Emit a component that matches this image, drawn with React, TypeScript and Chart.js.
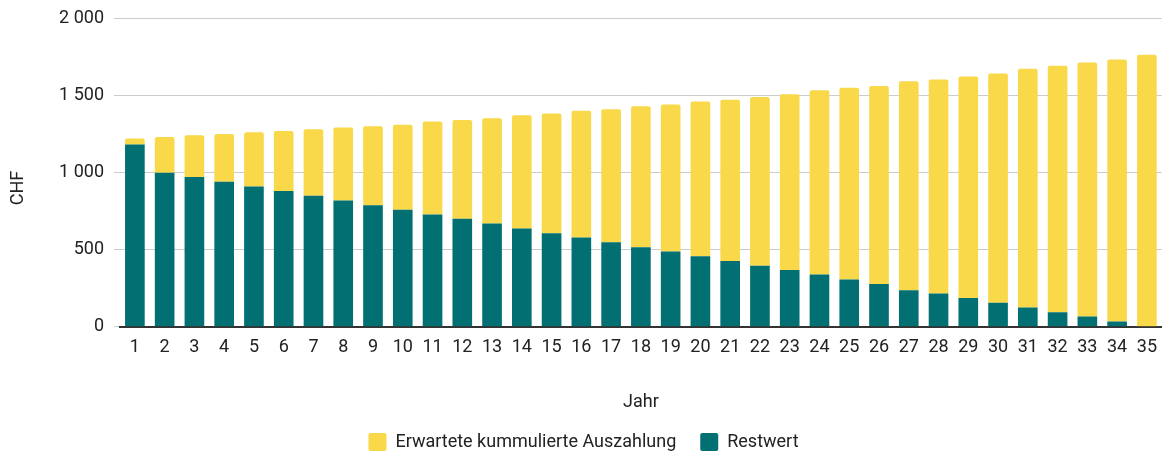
import React, { useEffect, useRef } from 'react';
import { Chart, registerables } from 'chart.js';

Chart.register(...registerables);

const years: string[] = [
  '1', '2', '3', '4', '5', '6', '7', '8', '9', '10',
  '11', '12', '13', '14', '15', '16', '17', '18', '19', '20',
  '21', '22', '23', '24', '25', '26', '27', '28', '29', '30',
  '31', '32', '33', '34', '35',
];

const restwert: number[] = [
  1180, 998, 970, 940, 909, 879, 848, 818, 788, 758,
  727, 699, 669, 636, 606, 578, 548, 515, 487, 457,
  426, 396, 368, 338, 307, 277, 236, 216, 186, 156,
  125, 95, 67, 34, 0,
];

const auszahlung: number[] = [
  39, 231, 270, 309, 351, 389, 431, 472, 511, 550,
  602, 641, 682, 734, 775, 822, 861, 914, 952, 1002,
  1044, 1093, 1138, 1194, 1242, 1283, 1355, 1386, 1435, 1484,
  1546, 1595, 1645, 1698, 1762,
];

const seriesNames = ['Restwert', 'Erwartete kummulierte Auszahlung'];
const xTitle = 'Jahr';
const yTitle = 'CHF';
const yMin = 0;
const yMax = 2000;
const yStep = 500;

const TEAL = '#027072';
const YELLOW = '#F9D849';
const FONT = 'Roboto, "Noto Sans", sans-serif';

function fmt(v: number): string {
  return String(v).replace(/\B(?=(\d{3})+(?!\d))/g, ' ');
}

const yTitlePlugin = {
  id: 'yTitlePlugin',
  afterDraw(chart: any) {
    const { ctx } = chart;
    ctx.save();
    ctx.translate(18, 188);
    ctx.rotate(-Math.PI / 2);
    ctx.font = `18px ${FONT}`;
    ctx.fillStyle = '#222222';
    ctx.textAlign = 'center';
    ctx.textBaseline = 'middle';
    ctx.fillText(yTitle, 0, 0);
    ctx.restore();
  },
};

const legendShiftPlugin = {
  id: 'legendShiftPlugin',
  afterLayout(chart: any) {
    const lg = chart.legend;
    if (lg) {
      lg.top += 9;
      lg.bottom += 9;
    }
  },
};

export default function App() {
  const ref = useRef<HTMLCanvasElement | null>(null);

  useEffect(() => {
    document.body.style.margin = '0';
    if (!ref.current) return;
    const chart = new Chart(ref.current, {
      type: 'bar',
      data: {
        labels: years,
        datasets: [
          {
            label: seriesNames[0],
            data: restwert,
            backgroundColor: TEAL,
            borderWidth: 0,
            barPercentage: 0.66,
            categoryPercentage: 1,
          },
          {
            label: seriesNames[1],
            data: auszahlung,
            backgroundColor: YELLOW,
            borderWidth: 0,
            borderRadius: { topLeft: 2, topRight: 2, bottomLeft: 0, bottomRight: 0 },
            borderSkipped: false,
            barPercentage: 0.66,
            categoryPercentage: 1,
          },
        ],
      },
      options: {
        animation: false,
        responsive: false,
        maintainAspectRatio: false,
        layout: { padding: { top: 18, right: 0, left: 0, bottom: 0 } },
        plugins: {
          legend: {
            position: 'bottom',
            reverse: true,
            labels: {
              boxWidth: 18,
              boxHeight: 18,
              padding: 24,
              color: '#222222',
              useBorderRadius: true,
              borderRadius: 2,
              font: { family: FONT, size: 18 },
            },
          },
          tooltip: { enabled: false },
          title: { display: false },
        },
        scales: {
          x: {
            stacked: true,
            grid: { display: false, drawTicks: false },
            border: { display: true, color: '#333333', width: 2 },
            ticks: {
              color: '#222222',
              padding: 10,
              maxRotation: 0,
              autoSkip: false,
              font: { family: FONT, size: 18 },
            },
            title: {
              display: true,
              text: xTitle,
              color: '#222222',
              font: { family: FONT, size: 18 },
              padding: { top: 23, bottom: -13 },
            },
          },
          y: {
            stacked: true,
            min: yMin,
            max: yMax,
            ticks: {
              stepSize: yStep,
              color: '#222222',
              padding: 10,
              font: { family: FONT, size: 18 },
              callback: (v: any) => fmt(Number(v)),
            },
            grid: { color: '#cccccc', lineWidth: 1, drawTicks: true, tickLength: 6, tickColor: '#cccccc' },
            border: { display: false },
            afterFit: (scale: any) => {
              scale.width = 120;
              scale.paddingTop = 0;
              scale.paddingBottom = 0;
            },
          },
        },
      },
      plugins: [yTitlePlugin, legendShiftPlugin],
    });
    return () => chart.destroy();
  }, []);

  return <canvas ref={ref} width={1167} height={452} style={{ display: 'block', width: 1167, height: 452 }} />;
}
